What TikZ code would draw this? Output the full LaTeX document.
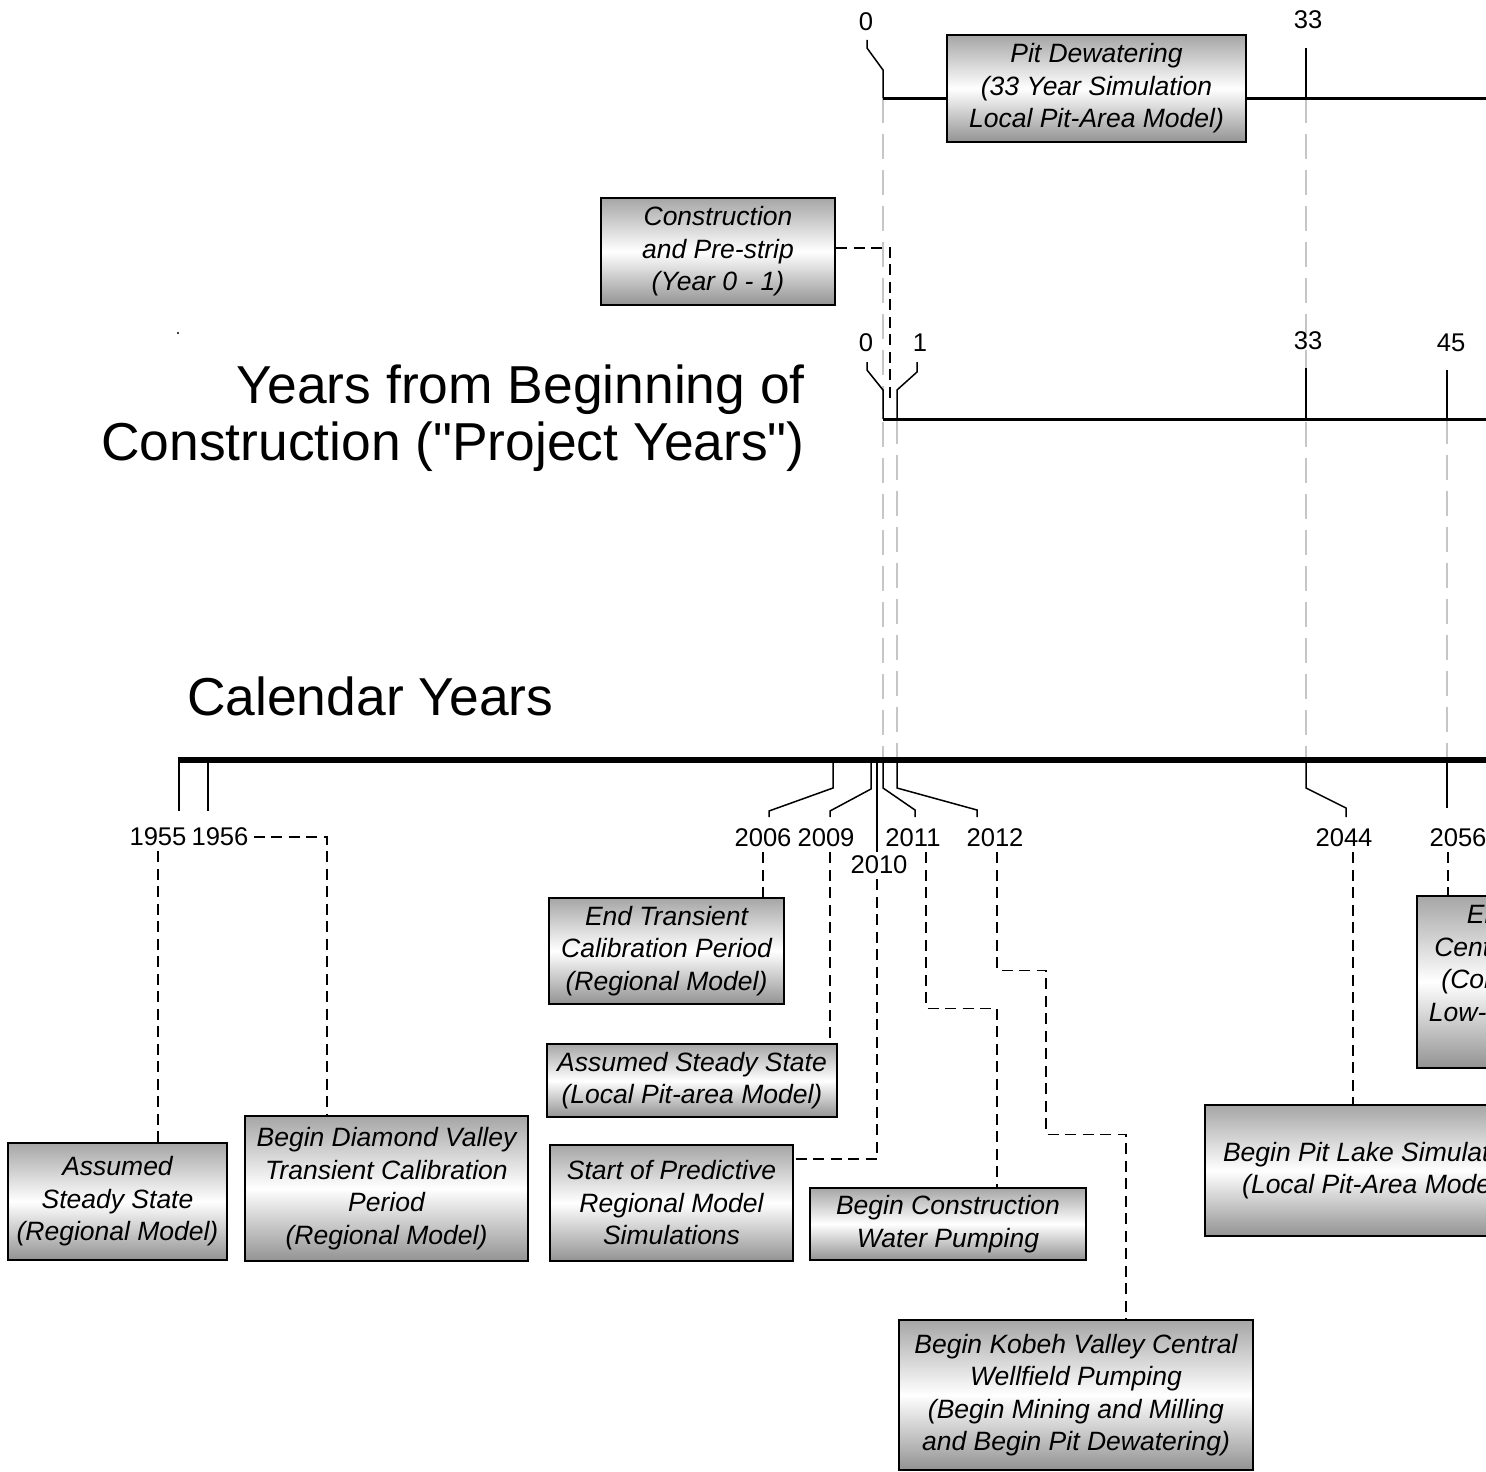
\documentclass[tikz,border=0pt]{standalone}
\usepackage{fontspec}
\setmainfont{Liberation Sans}
\newfontfamily\headfam{Liberation Sans}
\newcommand\boxfont{\fontsize{26.5}{32.5}\selectfont\itshape}
\newcommand\yrfont{\fontsize{25.6}{30}\selectfont}
\newcommand\headfont{\headfam\fontsize{53.4}{57}\selectfont}
\begin{document}
\begin{tikzpicture}[x=1pt, y=-1pt,
  box/.style={draw, line width=2.8, top color=gray!70, bottom color=gray!85, middle color=white, inner sep=0, align=center, font=\boxfont},
  yr/.style={inner sep=5, font=\yrfont},
  tick/.style={line width=1.5},
  conn/.style={line width=1.5, dash pattern=on 11pt off 6.5pt},
  guide/.style={gray!45, line width=2, dash pattern=on 25pt off 11pt}]
\useasboundingbox (0,0) rectangle (1486,1472);
\clip (0,0) rectangle (1486,1472);
\fill[white] (0,0) rectangle (1486,1472);
\fill (178,333) circle (1.2);
\draw[guide] (883,98) -- (883,757);
\draw[guide] (897,419) -- (897,757);
\draw[guide] (1306,98) -- (1306,757);
\draw[guide] (1447,419) -- (1447,757);
\draw[line width=3] (883,98) -- (1486,98);
\draw[line width=3] (883,419) -- (1486,419);
\draw[line width=5.5] (178,760) -- (1486,760);
\node[anchor=east, align=right, inner sep=0, font=\headfont] (projtitle) at (805,418) {Years from Beginning of\\Construction ("Project Years")};
\node[anchor=base west, inner sep=0, font=\headfont] (caltitle) at (187,715) {Calendar Years};
\node[yr] (top0) at (866,22) {0};
\node[yr] (top33) at (1308,20) {33};
\node[yr] (pr0) at (866,343) {0};
\node[yr] (pr1) at (920,343) {1};
\node[yr] (pr33) at (1308,341) {33};
\node[yr] (pr45) at (1451,343) {45};
\draw[tick] (867,40) -- (867,48) -- (883,70) -- (883,98);
\draw[tick] (1306,48) -- (1306,98);
\draw[tick] (867,362) -- (867,370) -- (883,390) -- (883,419);
\draw[tick] (917,362) -- (917,372) -- (897,390) -- (897,419);
\draw[tick] (1306,368) -- (1306,419);
\draw[tick] (1447,370) -- (1447,419);
\node[yr] (c1955) at (158,837) {1955};
\node[yr] (c1956) at (220,837) {1956};
\node[yr] (c2006) at (763,838) {2006};
\node[yr] (c2009) at (826,838) {2009};
\node[yr] (c2010) at (879,865) {2010};
\node[yr] (c2011) at (913,838) {2011};
\node[yr] (c2012) at (995,838) {2012};
\node[yr] (c2044) at (1344,838) {2044};
\node[yr] (c2056) at (1458,838) {2056};
\draw[tick] (179,760) -- (179,811);
\draw[tick] (208,760) -- (208,811);
\draw[tick] (833,760) -- (833,788) -- (769,811) -- (769,817);
\draw[tick] (871,760) -- (871,789) -- (830,811) -- (830,817);
\draw[tick] (877,760) -- (877,852);
\draw[tick] (883,760) -- (883,788) -- (915,810) -- (915,817);
\draw[tick] (897,760) -- (897,788) -- (977,810) -- (977,817);
\draw[tick] (1306,760) -- (1306,788) -- (1346,808) -- (1346,817);
\draw[tick] (1447,760) -- (1447,808);
\node[box, minimum width=299, minimum height=107] (pitdw) at (1096.5,88.5) {Pit Dewatering\\(33 Year Simulation\\Local Pit-Area Model)};
\node[box, minimum width=234, minimum height=107] (constr) at (718,251.5) {Construction\\and Pre-strip\\(Year 0 - 1)};
\node[box, minimum width=219, minimum height=117] (ass55) at (117.5,1201.5) {Assumed\\Steady State\\(Regional Model)};
\node[box, minimum width=283, minimum height=145] (diam) at (386.5,1188.5) {Begin Diamond Valley\\Transient Calibration\\Period\\(Regional Model)};
\node[box, minimum width=235, minimum height=106] (endtr) at (666.5,951) {End Transient\\Calibration Period\\(Regional Model)};
\node[box, minimum width=290, minimum height=73] (assloc) at (692,1080.5) {Assumed Steady State\\(Local Pit-area Model)};
\node[box, minimum width=243, minimum height=116] (pred) at (671.5,1203) {Start of Predictive\\Regional Model\\Simulations};
\node[box, minimum width=276, minimum height=72] (cwp) at (948,1224) {Begin Construction\\Water Pumping};
\node[box, minimum width=354, minimum height=150] (kobeh) at (1076,1395) {Begin Kobeh Valley Central\\Wellfield Pumping\\(Begin Mining and Milling\\and Begin Pit Dewatering)};
\node[box, minimum width=338, minimum height=131] (pitlake) at (1374,1170.5) {Begin Pit Lake Simulation\\(Local Pit-Area Model)};
\node[box, minimum width=339, minimum height=172] (endkv) at (1586.5,982) {End of Kobeh Valley\\Central Wellfield Pumping\\(Complete Mining; Begin\\Low-grade Ore Processing\\Continues)};
\coordinate (prstart) at (890,400);
\draw[conn] ([yshift=3.5]constr.east) -| (prstart);
\draw[conn] (c1955.south) -- (c1955.south |- ass55.north);
\draw[conn] (c1956.east) -| ([xshift=-59.5]diam.north);
\draw[conn] (c2006.south) -- (c2006.south |- endtr.north);
\coordinate (j2009) at ([xshift=4]c2009.south);
\draw[conn] (j2009) -- (j2009 |- assloc.north);
\draw[conn] ([xshift=-2]c2010.south) |- ([yshift=44]pred.east);
\draw[conn] ([xshift=13]c2011.south) -- ++(0,156) -| ([xshift=49]cwp.north);
\draw[conn] ([xshift=2]c2012.south) -- ++(0,118) -- ++(49,0) -- ++(0,164) -| ([xshift=50]kobeh.north);
\coordinate (j2044) at ([xshift=9]c2044.south);
\draw[conn] (j2044) -- (j2044 |- pitlake.north);
\coordinate (j2056) at ([xshift=-10]c2056.south);
\draw[conn] (j2056) -- (j2056 |- endkv.north);
\end{tikzpicture}
\end{document}
